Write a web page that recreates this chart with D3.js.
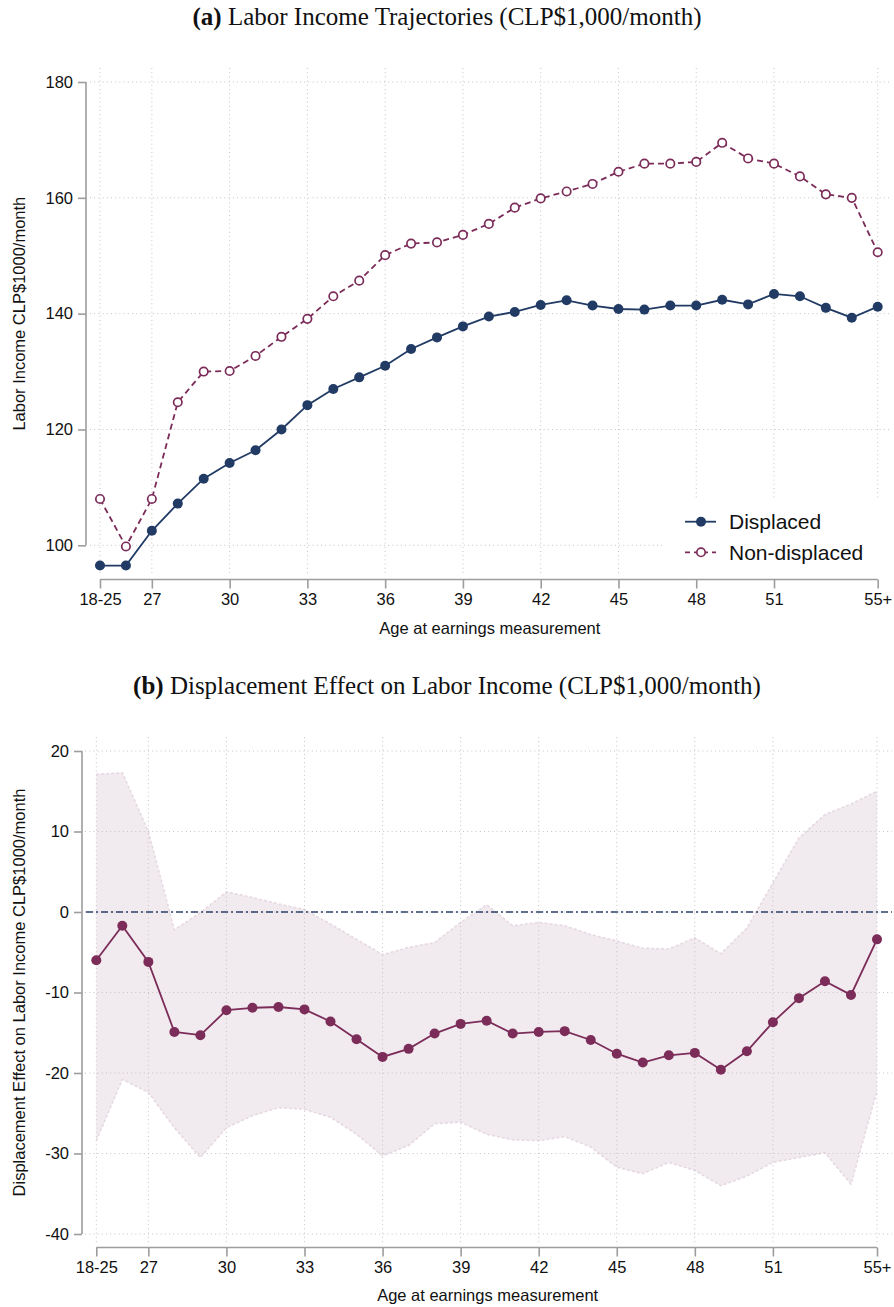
<!DOCTYPE html>
<html>
<head>
<meta charset="utf-8">
<script src="https://cdn.jsdelivr.net/npm/d3@7"></script>
<style>
  html, body { margin: 0; padding: 0; background: #ffffff; }
  svg { display: block; }
  .tick-label { font-family: "Liberation Sans", Arial, Helvetica, sans-serif; font-size: 16.5px; fill: #111; }
  .axis-title { font-family: "Liberation Sans", Arial, Helvetica, sans-serif; font-size: 16.5px; fill: #111; }
  .panel-title { font-family: "Liberation Serif", "Times New Roman", serif; font-size: 25px; fill: #111; }
  .legend-text { font-family: "Liberation Sans", Arial, Helvetica, sans-serif; font-size: 21px; fill: #111; }
</style>
</head>
<body>
<svg id="chart" width="894" height="1307"></svg>
<script>
// Age groups along the horizontal axis (first and last are open-ended brackets)
const ageGroups = ["18-25", "26", "27", "28", "29", "30", "31", "32", "33", "34", "35",
  "36", "37", "38", "39", "40", "41", "42", "43", "44", "45", "46", "47", "48", "49",
  "50", "51", "52", "53", "54", "55+"];
const ageTicks = ["18-25", "27", "30", "33", "36", "39", "42", "45", "48", "51", "55+"];

// Panel (a): average monthly labor income, CLP$1,000
const displaced = [96.5, 96.5, 102.5, 107.2, 111.5, 114.2, 116.4, 120.0, 124.2, 127.0, 129.0,
  131.0, 133.9, 135.9, 137.8, 139.5, 140.3, 141.5, 142.3, 141.4, 140.8, 140.7, 141.4, 141.4,
  142.4, 141.6, 143.4, 143.0, 141.0, 139.3, 141.2];
const nonDisplaced = [108.0, 99.8, 108.0, 124.7, 130.0, 130.1, 132.7, 136.0, 139.1, 143.0, 145.7,
  150.1, 152.1, 152.3, 153.6, 155.5, 158.3, 159.9, 161.1, 162.4, 164.5, 165.9, 165.9, 166.2,
  169.5, 166.8, 165.9, 163.7, 160.6, 160.0, 150.6];
const incomeTicks = [100, 120, 140, 160, 180];

// Panel (b): displacement effect and its confidence interval
const effect = [-6.0, -1.7, -6.2, -14.9, -15.3, -12.2, -11.9, -11.8, -12.1, -13.6, -15.8,
  -18.0, -17.0, -15.1, -13.9, -13.5, -15.1, -14.9, -14.8, -15.9, -17.6, -18.7, -17.8, -17.5,
  -19.6, -17.3, -13.7, -10.7, -8.6, -10.3, -3.4];
const ciUpper = [17.1, 17.3, 10.0, -2.2, -0.1, 2.5, 1.8, 1.0, 0.3, -1.5, -3.4,
  -5.3, -4.4, -3.8, -1.3, 0.9, -1.7, -1.3, -1.7, -2.8, -3.6, -4.5, -4.6, -3.2,
  -5.2, -2.0, 3.6, 9.2, 12.1, 13.4, 15.0];
const ciLower = [-28.4, -20.8, -22.4, -26.8, -30.5, -26.8, -25.3, -24.3, -24.5, -25.5, -27.6,
  -30.3, -29.0, -26.3, -26.1, -27.6, -28.3, -28.4, -27.9, -29.2, -31.7, -32.5, -31.1, -32.1,
  -34.0, -32.8, -31.1, -30.5, -29.9, -33.8, -22.2];
const effectTicks = [-40, -30, -20, -10, 0, 10, 20];

const NAVY = "#213b64";
const MAROON = "#7b2c59";
const AXIS = "#9d9d9d";
const GRID = "#c4c4c4";

const svg = d3.select("#chart");

// Draws gridlines, axes and labels for one panel and returns its scales
function frame(opts) {
  const x = d3.scalePoint().domain(ageGroups).range(opts.xRange);
  const y = d3.scaleLinear().domain(opts.yDomain).range(opts.yRange);
  const back = svg.append("g");   // layer for shaded areas, under the grid
  const g = svg.append("g");

  // dotted gridlines
  g.append("g").selectAll("line").data(opts.yTicks).join("line")
    .attr("x1", opts.gridLeft).attr("x2", opts.gridRight)
    .attr("y1", d => y(d)).attr("y2", d => y(d))
    .attr("stroke", GRID).attr("stroke-width", 1).attr("stroke-dasharray", "1,3.2");
  g.append("g").selectAll("line").data(ageTicks).join("line")
    .attr("x1", d => x(d)).attr("x2", d => x(d))
    .attr("y1", opts.gridTop).attr("y2", opts.gridBottom)
    .attr("stroke", GRID).attr("stroke-width", 1).attr("stroke-dasharray", "1,3.2");

  // y axis
  const yAxis = d3.axisLeft(y).tickValues(opts.yTicks).tickFormat(d => String(d))
    .tickSize(8).tickPadding(5);
  const ya = g.append("g").attr("transform", `translate(${opts.axisX},0)`).call(yAxis);
  // x axis
  const xAxis = d3.axisBottom(x).tickValues(ageTicks).tickSize(9).tickPadding(5);
  const xa = g.append("g").attr("transform", `translate(0,${opts.axisY})`).call(xAxis);

  [ya, xa].forEach(a => {
    a.attr("font-size", null).attr("font-family", null);
    a.select(".domain").attr("stroke", AXIS).attr("stroke-width", 1.6);
    a.selectAll(".tick line").attr("stroke", AXIS).attr("stroke-width", 1.6);
    a.selectAll(".tick text").attr("class", "tick-label");
  });
  // axis lines span only the tick range
  ya.select(".domain").attr("d", `M0,${y(opts.yTicks[opts.yTicks.length - 1])}V${y(opts.yTicks[0])}`);
  xa.select(".domain").attr("d", `M${opts.xLineStart},0H${x(ageGroups[ageGroups.length - 1])}`);

  g.append("text").attr("class", "axis-title")
    .attr("text-anchor", "middle")
    .attr("transform", `translate(${opts.yTitleX},${(opts.yRange[0] + opts.yRange[1]) / 2}) rotate(-90)`)
    .text(opts.yTitle);
  g.append("text").attr("class", "axis-title")
    .attr("text-anchor", "middle")
    .attr("x", (opts.xRange[0] + opts.xRange[1]) / 2 + 1)
    .attr("y", opts.xTitleY)
    .text("Age at earnings measurement");

  const t = svg.append("text").attr("class", "panel-title")
    .attr("text-anchor", "middle").attr("x", 447).attr("y", opts.titleY);
  t.append("tspan").attr("font-weight", "bold").text(opts.tag);
  t.append("tspan").text(" " + opts.title);
  return { x, y, back };
}

// ---------- Panel (a) ----------
const A = frame({
  xRange: [100, 877.7], yDomain: [100, 180], yRange: [545.3, 82], yTicks: incomeTicks,
  gridLeft: 90, gridRight: 892, gridTop: 68, gridBottom: 576,
  axisX: 86, axisY: 579.5, xLineStart: 100,
  yTitle: "Labor Income CLP$1000/month", yTitleX: 25, xTitleY: 634,
  tag: "(a)", title: "Labor Income Trajectories (CLP$1,000/month)", titleY: 25
});

// legend box masks the gridlines behind it
svg.append("rect").attr("x", 663).attr("y", 500).attr("width", 231).attr("height", 77).attr("fill", "#fff");

const lineA = d3.line().x((d, i) => A.x(ageGroups[i])).y(d => A.y(d));
svg.append("path").datum(nonDisplaced).attr("d", lineA)
  .attr("fill", "none").attr("stroke", MAROON).attr("stroke-width", 1.8).attr("stroke-dasharray", "6,4");
svg.append("path").datum(displaced).attr("d", lineA)
  .attr("fill", "none").attr("stroke", NAVY).attr("stroke-width", 1.8);
svg.append("g").selectAll("circle").data(nonDisplaced).join("circle")
  .attr("cx", (d, i) => A.x(ageGroups[i])).attr("cy", d => A.y(d)).attr("r", 4.2)
  .attr("fill", "#fff").attr("stroke", MAROON).attr("stroke-width", 1.7);
svg.append("g").selectAll("circle").data(displaced).join("circle")
  .attr("cx", (d, i) => A.x(ageGroups[i])).attr("cy", d => A.y(d)).attr("r", 5)
  .attr("fill", NAVY);

// legend
const legend = svg.append("g");
const legendRows = [
  { label: "Displaced", color: NAVY, dash: null, hollow: false, y: 521.7 },
  { label: "Non-displaced", color: MAROON, dash: "5,4", hollow: true, y: 552.3 }
];
legendRows.forEach(r => {
  legend.append("line").attr("x1", 685).attr("x2", 716).attr("y1", r.y).attr("y2", r.y)
    .attr("stroke", r.color).attr("stroke-width", 1.8).attr("stroke-dasharray", r.dash);
  legend.append("circle").attr("cx", 701).attr("cy", r.y).attr("r", r.hollow ? 4.2 : 5)
    .attr("fill", r.hollow ? "#fff" : r.color).attr("stroke", r.hollow ? r.color : "none")
    .attr("stroke-width", 1.7);
  legend.append("text").attr("class", "legend-text").attr("x", 729).attr("y", r.y + 7.5).text(r.label);
});

// ---------- Panel (b) ----------
const B = frame({
  xRange: [96.3, 877], yDomain: [-40, 20], yRange: [1234, 751], yTicks: effectTicks,
  gridLeft: 85, gridRight: 892, gridTop: 737, gridBottom: 1244,
  axisX: 82, axisY: 1247.5, xLineStart: 96.3,
  yTitle: "Displacement Effect on Labor Income CLP$1000/month", yTitleX: 25, xTitleY: 1301,
  tag: "(b)", title: "Displacement Effect on Labor Income (CLP$1,000/month)", titleY: 694
});

// confidence band with dashed light edges
const band = d3.area()
  .x((d, i) => B.x(ageGroups[i]))
  .y0((d, i) => B.y(ciLower[i]))
  .y1(d => B.y(d));
B.back.append("path").datum(ciUpper).attr("d", band).attr("fill", "#f1eaef").attr("stroke", "none");
const edge = d3.line().x((d, i) => B.x(ageGroups[i])).y(d => B.y(d));
[ciUpper, ciLower].forEach(arr => {
  B.back.append("path").datum(arr).attr("d", edge).attr("fill", "none")
    .attr("stroke", "#e6d9e2").attr("stroke-width", 1.6).attr("stroke-dasharray", "3,2");
});

// reference line at zero
svg.append("line").attr("x1", 86).attr("x2", 892).attr("y1", B.y(0)).attr("y2", B.y(0))
  .attr("stroke", "#2c426a").attr("stroke-width", 1.3).attr("stroke-dasharray", "7,3,2,3");

svg.append("path").datum(effect).attr("d", d3.line().x((d, i) => B.x(ageGroups[i])).y(d => B.y(d)))
  .attr("fill", "none").attr("stroke", MAROON).attr("stroke-width", 1.8);
svg.append("g").selectAll("circle").data(effect).join("circle")
  .attr("cx", (d, i) => B.x(ageGroups[i])).attr("cy", d => B.y(d)).attr("r", 5)
  .attr("fill", MAROON);
</script>
</body>
</html>
